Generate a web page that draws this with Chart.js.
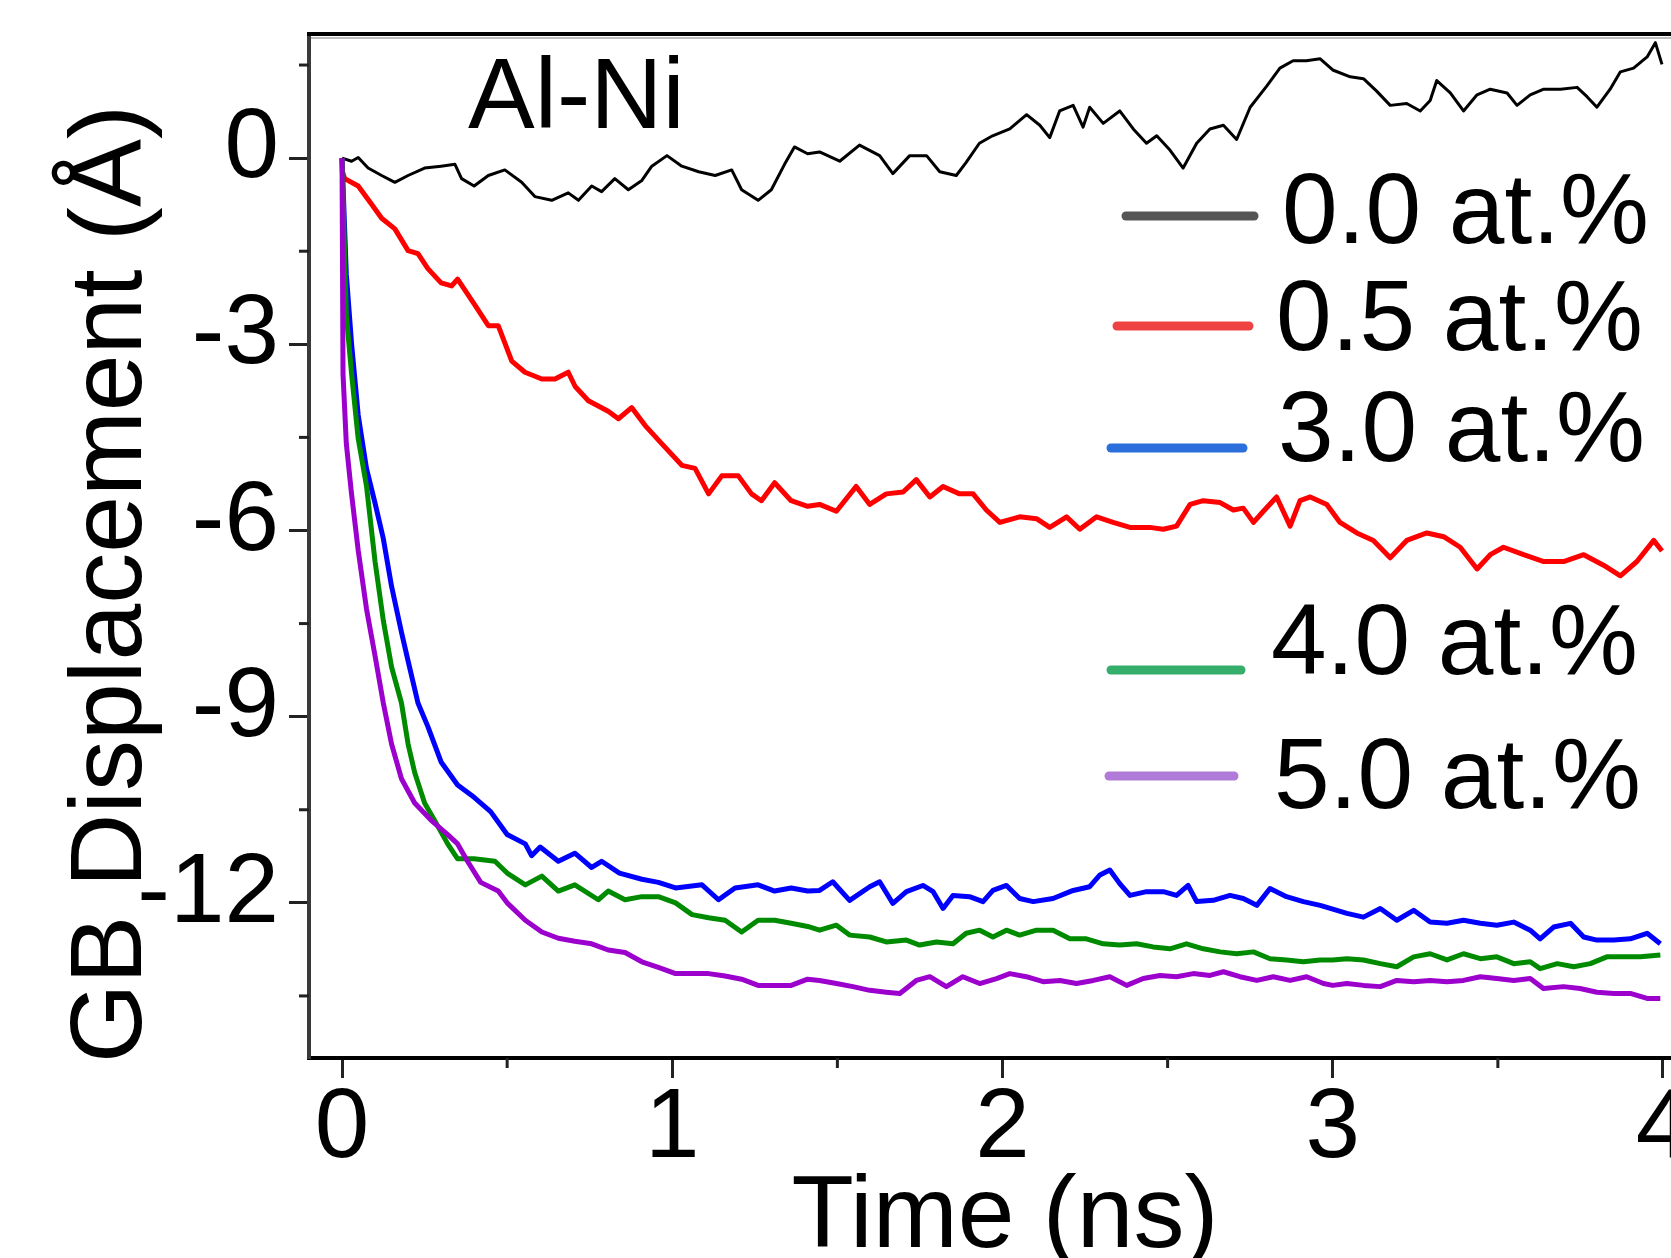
<!DOCTYPE html>
<html>
<head>
<meta charset="utf-8">
<title>GB Displacement Al-Ni</title>
<script src="https://cdn.jsdelivr.net/npm/chart.js@4.4.1/dist/chart.umd.min.js"></script>
<style>
  html, body { margin: 0; padding: 0; background: #fff; overflow: hidden; }
  #wrap { position: relative; width: 1700px; height: 1258px; }
</style>
</head>
<body>
<div id="wrap"><canvas id="myChart" width="1700" height="1258"></canvas></div>
<script>
// values (time in ns, displacement in Angstrom)
const seriesLabels = ['0.0 at.%', '0.5 at.%', '3.0 at.%', '4.0 at.%', '5.0 at.%'];

const blackTime = [0, 0.029, 0.049, 0.079, 0.12, 0.16, 0.20, 0.25, 0.30, 0.342,
  0.362, 0.40, 0.443, 0.493, 0.544, 0.584, 0.635, 0.685, 0.716, 0.756,
  0.786, 0.826, 0.867, 0.908, 0.938, 0.984, 1.029, 1.08, 1.13, 1.18,
  1.21, 1.26, 1.30, 1.34, 1.37, 1.41, 1.446, 1.507, 1.567, 1.628,
  1.668, 1.719, 1.77, 1.81, 1.86, 1.89, 1.93, 1.97, 2.022, 2.073,
  2.113, 2.143, 2.173, 2.214, 2.244, 2.264, 2.305, 2.355, 2.396, 2.436,
  2.467, 2.507, 2.547, 2.588, 2.628, 2.669, 2.709, 2.75, 2.80, 2.84,
  2.88, 2.92, 2.962, 3.0, 3.053, 3.093, 3.133, 3.174, 3.224, 3.265,
  3.295, 3.315, 3.356, 3.396, 3.437, 3.477, 3.528, 3.558, 3.598, 3.639,
  3.69, 3.74, 3.77, 3.80, 3.84, 3.871, 3.911, 3.952, 3.977, 3.997];
const blackDisp = [0, -0.05, 0.01, -0.16, -0.28, -0.39, -0.28, -0.16, -0.13, -0.10,
  -0.33, -0.45, -0.28, -0.19, -0.39, -0.62, -0.68, -0.56, -0.68, -0.45,
  -0.54, -0.33, -0.51, -0.36, -0.13, 0.04, -0.13, -0.22, -0.28, -0.19,
  -0.51, -0.68, -0.51, -0.10, 0.18, 0.07, 0.10, -0.05, 0.21, 0.04,
  -0.25, 0.04, 0.04, -0.22, -0.28, -0.07, 0.24, 0.36, 0.47, 0.70,
  0.53, 0.33, 0.76, 0.85, 0.50, 0.82, 0.56, 0.76, 0.47, 0.24,
  0.36, 0.13, -0.16, 0.24, 0.47, 0.53, 0.30, 0.82, 1.16, 1.45,
  1.57, 1.57, 1.60, 1.42, 1.31, 1.28, 1.08, 0.85, 0.88, 0.76,
  0.93, 1.25, 1.05, 0.76, 1.02, 1.11, 1.05, 0.85, 1.02, 1.11,
  1.11, 1.14, 0.99, 0.82, 1.11, 1.39, 1.45, 1.63, 1.86, 1.51];

const redTime = [0, 0.008, 0.049, 0.089, 0.12, 0.16, 0.20, 0.23, 0.26, 0.30,
  0.332, 0.35, 0.40, 0.443, 0.473, 0.514, 0.554, 0.605, 0.645, 0.685,
  0.706, 0.746, 0.806, 0.837, 0.877, 0.918, 0.968, 1.029, 1.069, 1.11,
  1.15, 1.20, 1.24, 1.27, 1.31, 1.36, 1.41, 1.446, 1.497, 1.557,
  1.598, 1.648, 1.699, 1.739, 1.78, 1.82, 1.87, 1.911, 1.951, 1.992,
  2.052, 2.103, 2.143, 2.194, 2.234, 2.285, 2.335, 2.386, 2.446, 2.487,
  2.527, 2.568, 2.608, 2.659, 2.699, 2.729, 2.76, 2.79, 2.83, 2.871,
  2.901, 2.932, 2.982, 3.022, 3.073, 3.123, 3.174, 3.224, 3.285, 3.336,
  3.386, 3.437, 3.477, 3.517, 3.578, 3.639, 3.699, 3.76, 3.82, 3.871,
  3.921, 3.972, 3.997];
const redDisp = [-0.2, -0.33, -0.45, -0.74, -0.97, -1.14, -1.49, -1.54, -1.78, -2.01,
  -2.06, -1.95, -2.35, -2.70, -2.70, -3.27, -3.45, -3.56, -3.56, -3.45,
  -3.68, -3.91, -4.08, -4.20, -4.02, -4.31, -4.60, -4.95, -5.00, -5.41,
  -5.12, -5.12, -5.41, -5.52, -5.23, -5.52, -5.61, -5.58, -5.69, -5.29,
  -5.58, -5.41, -5.38, -5.18, -5.46, -5.29, -5.41, -5.41, -5.67, -5.87,
  -5.78, -5.81, -5.95, -5.78, -5.98, -5.78, -5.87, -5.95, -5.95, -5.98,
  -5.93, -5.58, -5.52, -5.55, -5.67, -5.64, -5.87, -5.69, -5.46, -5.93,
  -5.52, -5.46, -5.58, -5.87, -6.04, -6.16, -6.44, -6.16, -6.04, -6.10,
  -6.27, -6.62, -6.39, -6.27, -6.39, -6.50, -6.50, -6.39, -6.56, -6.73,
  -6.50, -6.16, -6.33];

const blueTime = [0, 0.013, 0.029, 0.049, 0.074, 0.10, 0.125, 0.15, 0.18, 0.20,
  0.23, 0.26, 0.30, 0.35, 0.40, 0.45, 0.50, 0.555, 0.574, 0.60,
  0.655, 0.705, 0.756, 0.786, 0.84, 0.908, 0.958, 1.01, 1.09, 1.14,
  1.19, 1.26, 1.31, 1.36, 1.41, 1.446, 1.486, 1.537, 1.598, 1.628,
  1.668, 1.709, 1.759, 1.79, 1.82, 1.85, 1.90, 1.941, 1.971, 2.012,
  2.052, 2.093, 2.153, 2.214, 2.264, 2.295, 2.325, 2.355, 2.386, 2.436,
  2.487, 2.527, 2.562, 2.588, 2.638, 2.689, 2.729, 2.77, 2.81, 2.86,
  2.911, 2.962, 3.0, 3.043, 3.093, 3.144, 3.194, 3.245, 3.295, 3.346,
  3.396, 3.447, 3.497, 3.548, 3.598, 3.628, 3.669, 3.72, 3.76, 3.80,
  3.851, 3.901, 3.952, 3.992];
const blueDisp = [0, -1.87, -3.00, -4.14, -5.00, -5.56, -6.13, -6.90, -7.64, -8.10,
  -8.78, -9.16, -9.73, -10.10, -10.30, -10.53, -10.90, -11.05, -11.24, -11.10,
  -11.33, -11.20, -11.43, -11.33, -11.52, -11.62, -11.67, -11.76, -11.71, -11.95,
  -11.76, -11.71, -11.81, -11.76, -11.81, -11.80, -11.66, -11.96, -11.74, -11.66,
  -12.01, -11.82, -11.72, -11.82, -12.09, -11.88, -11.90, -11.98, -11.80, -11.72,
  -11.93, -11.98, -11.93, -11.80, -11.74, -11.55, -11.47, -11.69, -11.88, -11.82,
  -11.82, -11.88, -11.72, -11.98, -11.96, -11.88, -11.93, -12.04, -11.77, -11.90,
  -11.98, -12.04, -12.10, -12.17, -12.23, -12.09, -12.28, -12.12, -12.31, -12.33,
  -12.28, -12.33, -12.36, -12.31, -12.44, -12.58, -12.39, -12.33, -12.55, -12.60,
  -12.60, -12.58, -12.49, -12.66];

const greenTime = [0, 0.013, 0.029, 0.049, 0.074, 0.10, 0.125, 0.15, 0.18, 0.20,
  0.22, 0.25, 0.28, 0.32, 0.35, 0.40, 0.463, 0.50, 0.555, 0.605,
  0.655, 0.705, 0.776, 0.806, 0.857, 0.908, 0.958, 1.01, 1.06, 1.11,
  1.16, 1.21, 1.26, 1.31, 1.36, 1.41, 1.446, 1.497, 1.537, 1.598,
  1.648, 1.709, 1.749, 1.80, 1.85, 1.89, 1.931, 1.971, 2.012, 2.052,
  2.103, 2.153, 2.204, 2.254, 2.305, 2.355, 2.406, 2.456, 2.507, 2.557,
  2.608, 2.659, 2.709, 2.76, 2.81, 2.86, 2.911, 2.962, 3.0, 3.043,
  3.093, 3.144, 3.194, 3.245, 3.295, 3.346, 3.396, 3.447, 3.497, 3.548,
  3.598, 3.628, 3.68, 3.73, 3.78, 3.83, 3.881, 3.932, 3.992];
const greenDisp = [0, -2.53, -3.48, -4.52, -5.28, -6.50, -7.45, -8.20, -8.78, -9.44,
  -9.90, -10.39, -10.67, -11.05, -11.29, -11.29, -11.33, -11.52, -11.71, -11.57,
  -11.81, -11.71, -11.95, -11.81, -11.95, -11.90, -11.90, -12.00, -12.19, -12.24,
  -12.28, -12.47, -12.28, -12.28, -12.33, -12.38, -12.44, -12.36, -12.52, -12.55,
  -12.63, -12.60, -12.68, -12.63, -12.66, -12.49, -12.44, -12.55, -12.44, -12.52,
  -12.44, -12.44, -12.58, -12.58, -12.66, -12.68, -12.66, -12.71, -12.74, -12.66,
  -12.74, -12.79, -12.82, -12.79, -12.90, -12.92, -12.95, -12.92, -12.92, -12.90,
  -12.92, -12.98, -13.03, -12.87, -12.82, -12.92, -12.82, -12.90, -12.87, -12.98,
  -12.95, -13.06, -12.98, -13.03, -12.98, -12.87, -12.87, -12.87, -12.84];

const purpleTime = [0, 0.003, 0.013, 0.028, 0.049, 0.074, 0.10, 0.125, 0.15, 0.18,
  0.22, 0.27, 0.32, 0.35, 0.38, 0.42, 0.473, 0.50, 0.555, 0.605,
  0.655, 0.705, 0.756, 0.806, 0.857, 0.908, 0.958, 1.01, 1.06, 1.11,
  1.16, 1.21, 1.26, 1.31, 1.36, 1.41, 1.446, 1.497, 1.547, 1.598,
  1.648, 1.689, 1.739, 1.78, 1.83, 1.88, 1.931, 1.982, 2.022, 2.072,
  2.123, 2.174, 2.224, 2.275, 2.325, 2.376, 2.426, 2.477, 2.527, 2.578,
  2.628, 2.669, 2.719, 2.77, 2.82, 2.871, 2.921, 2.972, 3.0, 3.043,
  3.093, 3.144, 3.194, 3.245, 3.295, 3.346, 3.396, 3.447, 3.497, 3.548,
  3.598, 3.638, 3.699, 3.749, 3.80, 3.851, 3.901, 3.952, 3.992];
const purpleDisp = [0, -3.48, -4.60, -5.37, -6.32, -7.26, -8.02, -8.78, -9.44, -10.00,
  -10.39, -10.67, -10.90, -11.05, -11.33, -11.67, -11.81, -12.00, -12.28, -12.47,
  -12.57, -12.62, -12.66, -12.76, -12.80, -12.95, -13.04, -13.14, -13.14, -13.14,
  -13.18, -13.23, -13.33, -13.33, -13.33, -13.23, -13.25, -13.30, -13.35, -13.41,
  -13.44, -13.46, -13.25, -13.19, -13.35, -13.19, -13.30, -13.22, -13.14, -13.19,
  -13.27, -13.25, -13.30, -13.25, -13.19, -13.33, -13.22, -13.17, -13.19, -13.14,
  -13.17, -13.11, -13.19, -13.25, -13.19, -13.25, -13.19, -13.30, -13.33, -13.30,
  -13.33, -13.35, -13.25, -13.27, -13.25, -13.27, -13.25, -13.19, -13.22, -13.25,
  -13.22, -13.38, -13.35, -13.38, -13.44, -13.46, -13.46, -13.54, -13.54];

// tick values
const xTicks = [0, 1, 2, 3, 4];
const xMinorTicks = [0.5, 1.5, 2.5, 3.5];
const yTicks = [-12, -9, -6, -3, 0];
const yMinorTicks = [1.5, -1.5, -4.5, -7.5, -10.5, -13.5];

const FONT = "'Liberation Sans', Arial, sans-serif";

function toPoints(times, values) {
    const n = Math.min(times.length, values.length);
    const pts = [];
    for (let i = 0; i < n; i++) pts.push({ x: times[i], y: values[i] });
    return pts;
}

// frame top edge, minor ticks, axis titles, inset label and the legend
const decorPlugin = {
    id: 'decor',
    afterDraw(chart) {
        const ctx = chart.ctx;
        const area = chart.chartArea;
        const xs = chart.scales.x;
        const ys = chart.scales.y;
        ctx.save();

        // top frame line
        ctx.strokeStyle = '#000';
        ctx.lineWidth = 4;
        ctx.beginPath();
        ctx.moveTo(area.left - 2, area.top);
        ctx.lineTo(area.right + 2, area.top);
        ctx.stroke();
        ctx.strokeStyle = '#bdbdbd';
        ctx.lineWidth = 2;
        ctx.beginPath();
        ctx.moveTo(area.left + 2, area.top + 4);
        ctx.lineTo(area.right, area.top + 4);
        ctx.stroke();

        // minor ticks
        ctx.strokeStyle = '#222';
        ctx.lineWidth = 3;
        xMinorTicks.forEach(v => {
            const px = xs.getPixelForValue(v);
            ctx.beginPath();
            ctx.moveTo(px, area.bottom);
            ctx.lineTo(px, area.bottom + 10);
            ctx.stroke();
        });
        yMinorTicks.forEach(v => {
            const py = ys.getPixelForValue(v);
            ctx.beginPath();
            ctx.moveTo(area.left, py);
            ctx.lineTo(area.left - 10, py);
            ctx.stroke();
        });

        ctx.fillStyle = '#000';
        ctx.textBaseline = 'alphabetic';

        // axis titles
        ctx.font = '102px ' + FONT;
        ctx.textAlign = 'center';
        ctx.fillText('Time (ns)', 1005, 1247);
        ctx.save();
        ctx.translate(141, 584);
        ctx.rotate(-Math.PI / 2);
        ctx.fillText('GB Displacement (Å)', 0, 0);
        ctx.restore();

        // inset label
        ctx.font = '100px ' + FONT;
        ctx.textAlign = 'left';
        ctx.fillText('Al-Ni', 468, 128);

        // legend
        const legendLines = [
            { x1: 1126, x2: 1254, y: 216, color: '#555555', tx: 1282, ty: 243 },
            { x1: 1117, x2: 1249, y: 326, color: '#ef4343', tx: 1276, ty: 350 },
            { x1: 1111, x2: 1243, y: 448, color: '#2a6fdb', tx: 1278, ty: 461 },
            { x1: 1111, x2: 1241, y: 670, color: '#35ad6b', tx: 1271, ty: 674 },
            { x1: 1109, x2: 1234, y: 776, color: '#b07ad9', tx: 1274, ty: 808 }
        ];
        ctx.lineCap = 'round';
        legendLines.forEach((l, i) => {
            ctx.strokeStyle = l.color;
            ctx.lineWidth = 9;
            ctx.beginPath();
            ctx.moveTo(l.x1, l.y);
            ctx.lineTo(l.x2, l.y);
            ctx.stroke();
            ctx.fillText(seriesLabels[i], l.tx, l.ty);
        });

        ctx.restore();
    }
};

Chart.defaults.font.family = FONT;
Chart.defaults.color = '#000';

const ctx = document.getElementById('myChart');

new Chart(ctx, {
    type: 'line',
    data: {
        datasets: [
            { label: seriesLabels[0], data: toPoints(blackTime, blackDisp), borderColor: '#000000', borderWidth: 3, order: 4 },
            { label: seriesLabels[1], data: toPoints(redTime, redDisp), borderColor: '#ff0000', borderWidth: 5, order: 3 },
            { label: seriesLabels[2], data: toPoints(blueTime, blueDisp), borderColor: '#0000ff', borderWidth: 5, order: 2 },
            { label: seriesLabels[3], data: toPoints(greenTime, greenDisp), borderColor: '#008a00', borderWidth: 5, order: 1 },
            { label: seriesLabels[4], data: toPoints(purpleTime, purpleDisp), borderColor: '#9b00cc', borderWidth: 5, order: 0 }
        ]
    },
    options: {
        responsive: false,
        animation: false,
        devicePixelRatio: 1,
        layout: { padding: { top: 34, left: 0, right: 4, bottom: 0 } },
        elements: {
            point: { radius: 0 },
            line: { tension: 0, borderJoinStyle: 'round' }
        },
        plugins: {
            legend: { display: false },
            tooltip: { enabled: false }
        },
        scales: {
            x: {
                type: 'linear',
                min: -0.1,
                max: 4.1,
                afterBuildTicks: scale => { scale.ticks = xTicks.map(v => ({ value: v })); },
                afterFit: scale => {
                    scale.height = 200;
                    scale.paddingLeft = 0;
                    scale.paddingRight = 0;
                },
                grid: { drawOnChartArea: false, tickLength: 20, tickWidth: 3, tickColor: '#222' },
                border: { display: true, width: 4, color: '#000' },
                ticks: {
                    autoSkip: false,
                    maxRotation: 0,
                    padding: 3,
                    font: { size: 98, lineHeight: 1 },
                    color: '#000',
                    callback: v => String(v)
                }
            },
            y: {
                type: 'linear',
                min: -14.5,
                max: 2,
                afterBuildTicks: scale => { scale.ticks = yTicks.map(v => ({ value: v })); },
                afterFit: scale => {
                    scale.width = 309;
                    scale.paddingTop = 0;
                    scale.paddingBottom = 0;
                },
                grid: { drawOnChartArea: false, tickLength: 20, tickWidth: 3, tickColor: '#222' },
                border: { display: true, width: 4, color: '#3a3a3a' },
                ticks: {
                    autoSkip: false,
                    padding: 10,
                    labelOffset: -8,
                    font: { size: 98, lineHeight: 1 },
                    color: '#000',
                    callback: v => String(v)
                }
            }
        }
    },
    plugins: [decorPlugin]
});
</script>
</body>
</html>
